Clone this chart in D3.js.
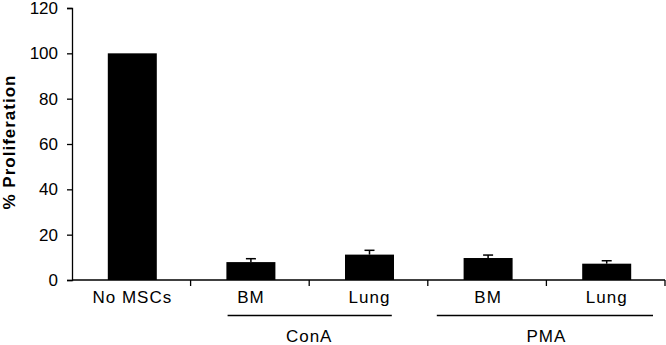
<!DOCTYPE html>
<html>
<head>
<meta charset="utf-8">
<script src="https://cdn.jsdelivr.net/npm/d3@7"></script>
<style>
  body { margin: 0; background: #fff; }
  text { font-family: "Liberation Sans", Arial, sans-serif; fill: #000; }
</style>
</head>
<body>
<div class="chart"></div>
<script>
// data
var categories = ['No MSCs', 'BM', 'Lung', 'BM ', 'Lung '];
var values = [100, 7.9, 11.2, 9.7, 7.2];
var errors = [0, 1.5, 1.9, 1.3, 1.3];
var groups = [{name: 'ConA', from: 1, to: 2, inL: 37, inR: 36},
              {name: 'PMA', from: 3, to: 4, inL: 9, inR: 12}];
var yTicks = [0, 20, 40, 60, 80, 100, 120];

var rows = categories.map((c, i) => ({cat: c, value: values[i], err: errors[i]}));

var w = 666, h = 345;
var svg = d3.select('div.chart').append('svg')
  .attr('width', w).attr('height', h);

var x0 = 72, x1 = 665, yBase = 280, yTop = 8;

var x = d3.scaleBand().domain(categories).range([x0, x1]).paddingInner(0).paddingOuter(0);
var y = d3.scaleLinear().domain([0, 120]).range([yBase, yTop]);
var barW = 49;
var cx = d => x(d.cat) + x.bandwidth() / 2 + 1;

// y axis
var yAxis = svg.append('g').attr('transform', 'translate(' + x0 + ',0)')
  .call(d3.axisLeft(y).tickValues(yTicks).tickSize(5).tickPadding(9));
yAxis.select('.domain').attr('stroke', '#000').attr('stroke-width', 1.3);
yAxis.selectAll('.tick line').attr('stroke', '#000').attr('stroke-width', 1.3);
yAxis.selectAll('.tick text').style('font-size', '17px').style('font-family', '"Liberation Sans", Arial, sans-serif');

// x axis line
svg.append('line').attr('x1', x0).attr('x2', x1).attr('y1', yBase).attr('y2', yBase)
  .attr('stroke', '#000').attr('stroke-width', 1.3);
svg.selectAll('line.xtick').data(categories).enter().append('line')
  .attr('class', 'xtick')
  .attr('x1', d => x(d) + x.bandwidth()).attr('x2', d => x(d) + x.bandwidth())
  .attr('y1', yBase).attr('y2', yBase + 6)
  .attr('stroke', '#000').attr('stroke-width', 1.3);

// bars
svg.selectAll('rect.bar').data(rows).enter().append('rect')
  .attr('class', 'bar')
  .attr('x', d => cx(d) - barW / 2)
  .attr('width', barW)
  .attr('y', d => y(d.value))
  .attr('height', d => y(0) - y(d.value))
  .attr('fill', '#000');

// error bars (upper only)
var eb = svg.selectAll('g.err').data(rows.filter(d => d.err > 0)).enter()
  .append('g').attr('class', 'err');
eb.append('line')
  .attr('x1', cx).attr('x2', cx)
  .attr('y1', d => y(d.value))
  .attr('y2', d => y(d.value + d.err))
  .attr('stroke', '#000').attr('stroke-width', 1.5);
eb.append('line')
  .attr('x1', d => cx(d) - 5)
  .attr('x2', d => cx(d) + 5)
  .attr('y1', d => y(d.value + d.err))
  .attr('y2', d => y(d.value + d.err))
  .attr('stroke', '#000').attr('stroke-width', 1.5);

// category labels
svg.selectAll('text.cat').data(rows).enter().append('text')
  .attr('class', 'cat')
  .attr('x', cx)
  .attr('y', 303)
  .attr('text-anchor', 'middle')
  .style('font-size', '17px')
  .style('letter-spacing', '1px')
  .text(d => d.cat.trim());

// group lines + labels
groups.forEach(function(g) {
  var gx0 = x(categories[g.from]), gx1 = x(categories[g.to]) + x.bandwidth();
  svg.append('line').attr('x1', gx0 + g.inL).attr('x2', gx1 - g.inR)
    .attr('y1', 315.5).attr('y2', 315.5)
    .attr('stroke', '#000').attr('stroke-width', 1.3);
  svg.append('text')
    .attr('x', (gx0 + gx1) / 2)
    .attr('y', 342)
    .attr('text-anchor', 'middle')
    .style('font-size', '17px')
    .style('letter-spacing', '1px')
    .text(g.name);
});

// y title
svg.append('text')
  .attr('transform', 'translate(15,142) rotate(-90)')
  .attr('text-anchor', 'middle')
  .style('font-size', '17px')
  .style('font-weight', 'bold')
  .style('letter-spacing', '1px')
  .text('% Proliferation');
</script>
</body>
</html>
